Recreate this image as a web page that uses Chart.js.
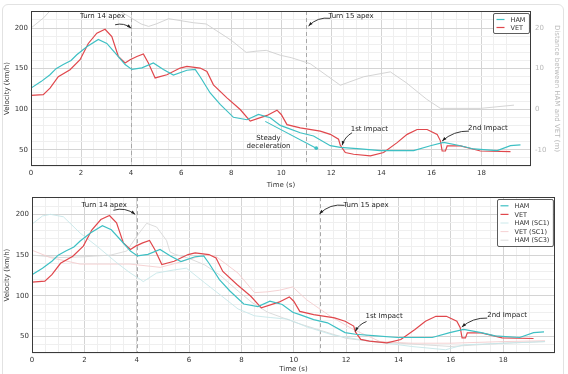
<html>

<head>
    <meta charset="utf-8">
    <title>HAM vs VET</title>
    <script src="https://cdn.jsdelivr.net/npm/chart.js@4.4.1/dist/chart.umd.min.js"></script>
    <style>
        body {
            margin: 0;
            background: #fff;
            overflow: hidden;
        }

        .card {
            position: absolute;
            left: 2px;
            top: 4px;
            width: 560px;
            height: 380px;
            border: 1px solid #e2e2e2;
            border-radius: 6px;
        }

        #topChart {
            position: absolute;
            left: 0;
            top: 0;
        }

        #bottomChart {
            position: absolute;
            left: 0;
            top: 190px;
        }
    </style>
</head>

<body>
    <div class="card"></div>
    <canvas id="topChart" width="568" height="190"></canvas>
    <canvas id="bottomChart" width="568" height="184"></canvas>

    <script>
        // ---- data: time (s) / velocity (km/h) ----
        var hamTime = [0, 0.4, 0.76, 1.0, 1.29, 1.6, 1.83, 2.23, 2.69, 3.03, 3.43, 3.76, 4.03, 4.43, 4.89, 5.29,
            5.69, 6.23, 6.56, 6.76, 7.16, 7.56, 8.09, 8.63, 9.09, 9.56, 9.96, 10.23, 10.76, 11.29, 11.96, 12.36,
            13.16, 13.96, 15.29, 15.96, 16.49, 17.16, 17.69, 18.63, 19.16, 19.56];
        var hamSpeed = [126, 134, 142.5, 150, 155, 160, 167, 177, 186, 181, 167, 155, 149, 151, 157, 149,
            142, 148, 149, 140, 120, 106, 90, 87, 93.5, 89.5, 80, 77, 71, 67, 55, 53,
            51, 49, 49, 55, 59, 55, 51, 49, 55, 56];

        var vetTime = [0, 0.49, 0.76, 1.09, 1.56, 1.96, 2.29, 2.63, 2.96, 3.23, 3.49, 3.76, 3.96, 4.23, 4.49, 4.69,
            4.96, 5.43, 5.96, 6.23, 6.76, 7.03, 7.29, 7.83, 8.36, 8.76, 9.43, 9.83, 10.0, 10.23, 10.76, 11.56,
            11.96, 12.29, 12.36, 12.56, 12.89, 13.56, 14.09, 14.63, 15.03, 15.43, 15.83, 16.23, 16.36, 16.43,
            16.56, 16.63, 17.16, 17.69, 17.96, 19.16];
        var vetSpeed = [117, 118, 126, 140, 148.6, 161, 181, 193.6, 198.5, 189.5, 165, 157, 161, 165, 168, 157,
            138.5, 142.5, 150.7, 152.7, 150.7, 146.6, 130, 114, 99.6, 85.3, 92.3, 98.8, 93.5, 81, 77, 73,
            69, 63, 55.5, 46.6, 44.5, 42.4, 46.6, 58.8, 69, 75, 75, 69, 61, 48.5,
            48.5, 54.7, 54.7, 50.6, 48.5, 47.8];

        // distance between HAM and VET (m), right axis of the top chart
        var gapTime = [0, 0.5, 0.8, 1.5, 3.0, 3.6, 4.0, 4.4, 4.7, 5.0, 5.5, 6.0, 6.5, 7.0, 7.4, 8.0, 8.6, 9.0,
            9.4, 9.96, 10.4, 11.16, 12.36, 13.3, 14.36, 15.0, 15.8, 16.36, 17.96, 19.3];
        var gapDist = [20, 22.5, 24.5, 25.5, 25.5, 24, 22.5, 21, 20.4, 21, 22.3, 21.8, 21.3, 21, 19.4, 17, 14, 14.3,
            14.5, 13.3, 12.7, 11.2, 5.9, 8, 9.2, 6.5, 2.5, 0.2, 0.2, 1.0];

        var steadyTime = [9.36, 11.4];
        var steadySpeed = [85, 52];

        // other scenarios, bottom chart
        var hamSc1Time = [0, 0.4, 0.7, 1.2, 1.84, 2.48, 3.24, 3.74, 4.13, 4.25, 4.76, 5.4, 5.9, 6.6, 7.24, 7.87,
            8.5, 9.1, 9.77, 10.5, 11.5, 12.6, 14.5, 15.8, 16.5, 19.6];
        var hamSc1Speed = [188, 198, 200, 197, 177, 161, 140.6, 128.4, 120.4, 117.5, 128, 131.7, 134, 116, 100, 84,
            75.6, 73.5, 71.5, 62, 52, 46, 38, 34, 40, 44];

        var vetSc1Time = [0, 0.7, 1.84, 3.74, 4.9, 5.5, 6.0, 6.6, 7.0, 7.87, 8.5, 9.0, 9.46, 9.96, 10.5, 11.4,
            12.3, 13.3, 14.5, 16, 18, 19.6];
        var vetSc1Speed = [156, 147, 139, 139, 135, 140, 145, 150, 149, 128, 104, 105, 107, 111, 95, 75,
            58.5, 44, 42, 42, 44, 45];

        var hamSc3Time = [0, 1.0, 2.0, 3.0, 3.62, 4.0, 4.38, 4.76, 5.14, 5.27, 5.46, 6.0, 6.6, 7.2, 7.8, 8.4,
            9.0, 9.6, 10.2, 11, 12, 13, 14, 15, 16, 17, 18, 19.6];
        var hamSc3Speed = [150, 147, 148, 150, 155, 173, 189, 184.5, 168, 154, 151, 146, 138, 125, 108, 92,
            80, 73, 66, 58, 48, 44, 42, 40, 38, 40, 42, 44];

        var apexTimes = [4, 11];
        var xTickLabels = [0, 2, 4, 6, 8, 10, 12, 14, 16, 18];
        var speedTickLabels = [50, 100, 150, 200];
        var gapTickLabels = [-10, 0, 10, 20];

        // ---- annotations (data coords) ----
        var topNotes = [
            { text: 'Turn 14 apex', at: [2.86, 214], from: [3.36, 204], to: [4.0, 200], rad: -0.25 },
            { text: 'Turn 15 apex', at: [12.79, 214], from: [11.96, 212], to: [11.09, 202.5], rad: 0.25 },
            { text: 'Steady', at: [9.49, 64] },
            { text: 'deceleration', at: [9.49, 54] },
            { text: '1st Impact', at: [13.52, 75], from: [12.83, 71], to: [12.43, 55.5], rad: 0.2 },
            { text: '2nd Impact', at: [18.26, 77], from: [17.5, 73], to: [16.43, 60.8], rad: 0.2 }
        ];
        var bottomNotes = [
            { text: 'Turn 14 apex', at: [2.76, 211], from: [3.11, 205], to: [3.94, 200], rad: -0.25 },
            { text: 'Turn 15 apex', at: [12.76, 211], from: [11.94, 211], to: [10.98, 200.5], rad: 0.25 },
            { text: '1st Impact', at: [13.45, 75], from: [12.78, 68.6], to: [12.35, 56.4], rad: 0.2 },
            { text: '2nd Impact', at: [18.15, 76], from: [17.39, 72.8], to: [16.42, 61.8], rad: 0.2 }
        ];

        var HAM_COLOR = '#3ec0c4';
        var VET_COLOR = '#e0474c';
        var FONT = '"DejaVu Sans", sans-serif';

        function pts(t, v) {
            return t.map(function (x, i) { return { x: x, y: v[i] }; });
        }

        function line(label, t, v, color, width, extra) {
            var d = {
                label: label,
                data: pts(t, v),
                borderColor: color,
                backgroundColor: color,
                borderWidth: width,
                pointRadius: 0,
                tension: 0,
                fill: false
            };
            return Object.assign(d, extra || {});
        }

        function drawArrow(ctx, p0, p1, rad) {
            var dx = p1[0] - p0[0], dy = p1[1] - p0[1];
            var cx = (p0[0] + p1[0]) / 2 - dy * rad, cy = (p0[1] + p1[1]) / 2 + dx * rad;
            ctx.beginPath();
            ctx.moveTo(p0[0], p0[1]);
            ctx.quadraticCurveTo(cx, cy, p1[0], p1[1]);
            ctx.stroke();
            var ang = Math.atan2(p1[1] - cy, p1[0] - cx), s = 4.5;
            ctx.beginPath();
            ctx.moveTo(p1[0], p1[1]);
            ctx.lineTo(p1[0] - s * Math.cos(ang - 0.35), p1[1] - s * Math.sin(ang - 0.35));
            ctx.lineTo(p1[0] - s * Math.cos(ang + 0.35), p1[1] - s * Math.sin(ang + 0.35));
            ctx.closePath();
            ctx.fill();
        }

        var decor = {
            id: 'decor',
            beforeDatasetsDraw: function (chart) {
                var ctx = chart.ctx, a = chart.chartArea, x = chart.scales.x;
                ctx.save();
                ctx.strokeStyle = '#a8a8a8';
                ctx.lineWidth = 1;
                ctx.setLineDash([4, 3]);
                apexTimes.forEach(function (t) {
                    var px = Math.round(x.getPixelForValue(t)) + 0.5;
                    ctx.beginPath();
                    ctx.moveTo(px, a.top);
                    ctx.lineTo(px, a.bottom);
                    ctx.stroke();
                });
                ctx.restore();
            },
            afterDraw: function (chart, args, opts) {
                var ctx = chart.ctx, a = chart.chartArea, x = chart.scales.x, y = chart.scales.y;
                ctx.save();
                // frame
                ctx.strokeStyle = '#3a3a3a';
                ctx.lineWidth = 1;
                ctx.strokeRect(Math.round(a.left) + 0.5, Math.round(a.top) + 0.5,
                    Math.round(a.right - a.left) - 1, Math.round(a.bottom - a.top) - 1);

                // notes
                ctx.font = '7px ' + FONT;
                ctx.fillStyle = '#222';
                ctx.strokeStyle = '#222';
                ctx.textAlign = 'center';
                ctx.textBaseline = 'middle';
                (opts.notes || []).forEach(function (n) {
                    ctx.fillText(n.text, x.getPixelForValue(n.at[0]), y.getPixelForValue(n.at[1]));
                    if (n.from) {
                        ctx.lineWidth = 0.9;
                        drawArrow(ctx,
                            [x.getPixelForValue(n.from[0]), y.getPixelForValue(n.from[1])],
                            [x.getPixelForValue(n.to[0]), y.getPixelForValue(n.to[1])], n.rad);
                    }
                });

                // legend
                var items = chart.data.datasets.filter(function (d) { return !d.hideInLegend; });
                ctx.font = '6.5px ' + FONT;
                ctx.textAlign = 'left';
                var rowH = opts.rowH, lineW = 8, gap = 6, padX = 3, padY = 2;
                var textW = Math.max.apply(null, items.map(function (d) { return ctx.measureText(d.label).width; }));
                var w = padX * 2 + lineW + gap + textW + 1, h = padY * 2 + rowH * items.length;
                var x0 = Math.round(a.right - 2 - w) + 0.5, y0 = Math.round(a.top + 2) + 0.5;
                ctx.fillStyle = '#fff';
                ctx.strokeStyle = '#333';
                ctx.lineWidth = 0.8;
                ctx.beginPath();
                ctx.roundRect(x0, y0, w, h, 1.5);
                ctx.fill();
                ctx.stroke();
                items.forEach(function (d, i) {
                    var cy = y0 + padY + rowH * (i + 0.5);
                    ctx.strokeStyle = d.borderColor;
                    ctx.lineWidth = d.borderWidth;
                    ctx.beginPath();
                    ctx.moveTo(x0 + padX, cy);
                    ctx.lineTo(x0 + padX + lineW, cy);
                    ctx.stroke();
                    ctx.fillStyle = '#333';
                    ctx.fillText(d.label, x0 + padX + lineW + gap, cy + 0.5);
                });
                ctx.restore();
            }
        };

        function xScale(h) {
            return {
                type: 'linear',
                min: 0,
                max: 19.98,
                border: { display: false },
                grid: {
                    drawTicks: false,
                    color: function (c) {
                        var v = c.tick.value;
                        if (Math.abs(v % 2) < 1e-6) return '#d4d4d4';
                        if (Math.abs(v % 0.5) < 1e-6) return '#efefef';
                        return 'rgba(0,0,0,0)';
                    }
                },
                ticks: {
                    stepSize: 0.5,
                    autoSkip: false,
                    maxRotation: 0,
                    padding: 3,
                    color: '#333',
                    font: { family: FONT, size: 7 },
                    callback: function (v) { return xTickLabels.indexOf(v) >= 0 ? String(v) : ''; }
                },
                title: { display: true, text: 'Time (s)', color: '#333', font: { family: FONT, size: 7 }, padding: { top: 0, bottom: 1 } },
                afterFit: function (s) { s.height = h; }
            };
        }

        function yScale(w) {
            return {
                type: 'linear',
                position: 'left',
                min: 30,
                max: 221,
                border: { display: false },
                grid: {
                    drawTicks: false,
                    color: function (c) {
                        var v = c.tick.value;
                        if (v % 50 === 0) return '#d4d4d4';
                        if (v % 10 === 0) return '#efefef';
                        return 'rgba(0,0,0,0)';
                    }
                },
                ticks: {
                    stepSize: 10,
                    autoSkip: false,
                    padding: 3,
                    color: '#333',
                    font: { family: FONT, size: 7 },
                    callback: function (v) { return speedTickLabels.indexOf(v) >= 0 ? String(v) : ''; }
                },
                title: { display: true, text: 'Velocity (km/h)', color: '#333', font: { family: FONT, size: 7 }, padding: { top: 3, bottom: 0 } },
                afterFit: function (s) { s.width = w; }
            };
        }

        function baseOptions() {
            return {
                responsive: false,
                animation: false,
                devicePixelRatio: 1,
                plugins: { legend: { display: false }, tooltip: { enabled: false } }
            };
        }

        // ---- top chart ----
        var topOpts = baseOptions();
        topOpts.layout = { padding: { top: 11, left: 0, right: 7, bottom: 0 } };
        topOpts.plugins.decor = { notes: topNotes, rowH: 8 };
        topOpts.scales = {
            x: xScale(24),
            y: yScale(31),
            y2: {
                type: 'linear',
                position: 'right',
                min: -14,
                max: 24.2,
                border: { display: false },
                grid: { display: false, drawTicks: false },
                ticks: {
                    stepSize: 10,
                    autoSkip: false,
                    padding: 4,
                    color: '#b8b8b8',
                    font: { family: FONT, size: 7 },
                    callback: function (v) { return gapTickLabels.indexOf(v) >= 0 ? String(v) : ''; }
                },
                title: { display: true, text: 'Distance between HAM and VET (m)', color: '#b8b8b8', font: { family: FONT, size: 7 }, padding: { top: 0, bottom: 0 } },
                afterFit: function (s) { s.width = 30; }
            }
        };
        new Chart(document.getElementById('topChart'), {
            type: 'line',
            data: {
                datasets: [
                    line('HAM', hamTime, hamSpeed, HAM_COLOR, 1.2),
                    line('VET', vetTime, vetSpeed, VET_COLOR, 1.2),
                    line('Distance', gapTime, gapDist, '#cfcfcf', 0.9, { yAxisID: 'y2', hideInLegend: true }),
                    line('Steady', steadyTime, steadySpeed, HAM_COLOR, 1.1, { hideInLegend: true, pointRadius: [0, 1.8], pointBorderWidth: 0 })
                ]
            },
            options: topOpts,
            plugins: [decor]
        });

        // ---- bottom chart ----
        var botOpts = baseOptions();
        botOpts.layout = { padding: { top: 7, left: 0, right: 13, bottom: 0 } };
        botOpts.plugins.decor = { notes: bottomNotes, rowH: 8.6 };
        botOpts.scales = { x: xScale(21), y: yScale(32) };
        new Chart(document.getElementById('bottomChart'), {
            type: 'line',
            data: {
                datasets: [
                    line('HAM', hamTime, hamSpeed, HAM_COLOR, 1.2, { order: 0 }),
                    line('VET', vetTime, vetSpeed, VET_COLOR, 1.2, { order: 0 }),
                    line('HAM (SC1)', hamSc1Time, hamSc1Speed, '#c6e7e9', 0.9, { order: 1 }),
                    line('VET (SC1)', vetSc1Time, vetSc1Speed, '#f4cdce', 0.9, { order: 1 }),
                    line('HAM (SC3)', hamSc3Time, hamSc3Speed, '#d8d8d8', 0.9, { order: 1 })
                ]
            },
            options: botOpts,
            plugins: [decor]
        });
    </script>
</body>

</html>
